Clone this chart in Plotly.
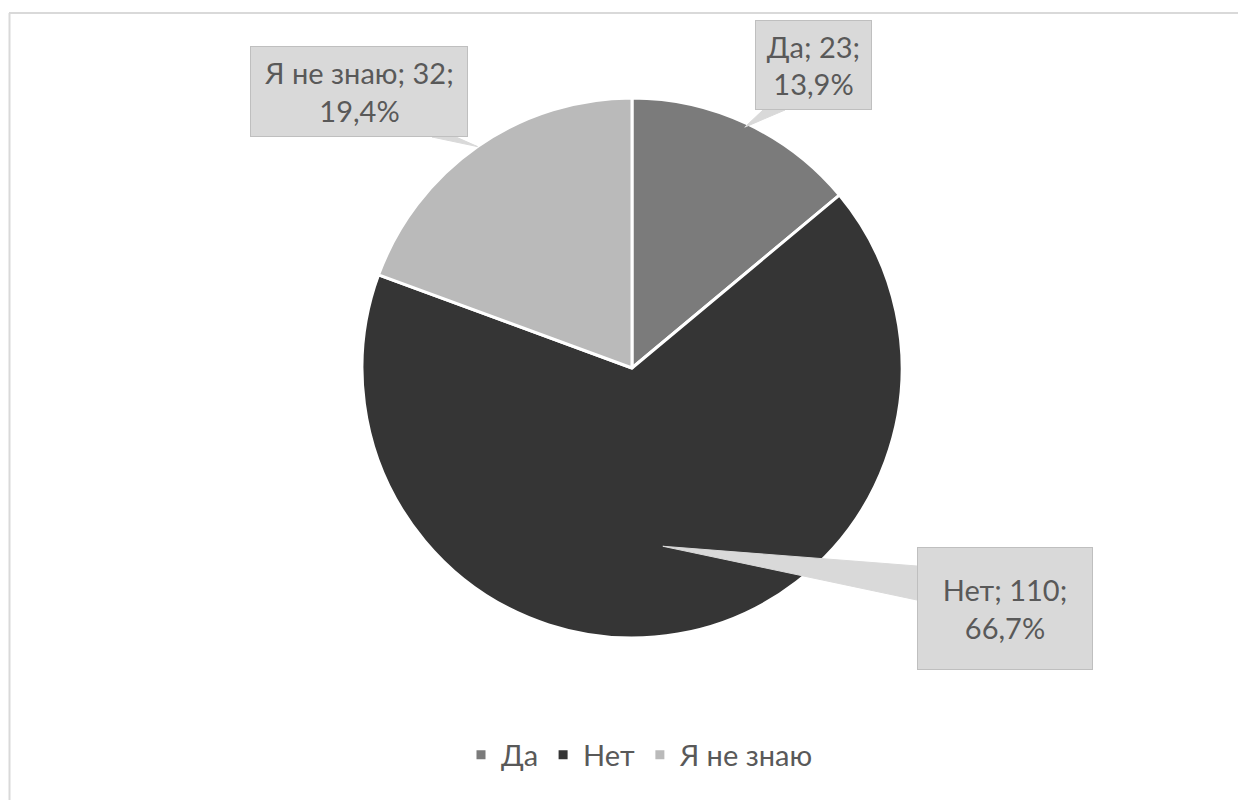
import numpy as np
import plotly.graph_objects as go

# data
labels = ["Да", "Нет", "Я не знаю"]
values = [23, 110, 32]
colors = ["#7b7b7b", "#353535", "#bababa"]

W, H = 1246, 800
OFF = 8                     # page body margin in the screenshot
cx, cy, R = 632, 368, 270   # pie centre / radius in px

# callout boxes (px): x0, y0, x1, y1
boxes = [(755, 20, 872, 110), (917, 547, 1093, 670), (250, 46, 468, 137)]
# pointer bases on the box edge (px) and how far in the tip sits (fraction of R)
bases = [((763, 110), (785, 110)), ((917, 566), (917, 600)), ((432, 137), (456, 137))]
tip_frac = [0.985, 0.67, 1.0]

total = sum(values)
pcts = [v / total * 100 for v in values]

FONT = "Lato, Open Sans, sans-serif"


def px(x):
    return (x - OFF) / W


def py(y):
    return 1 - (y - OFF) / H


fig = go.Figure()
fig.add_trace(go.Pie(
    labels=labels,
    values=values,
    sort=False,
    direction="clockwise",
    rotation=0,
    marker=dict(colors=colors, line=dict(color="white", width=3)),
    textinfo="none",
    hoverinfo="label+value+percent",
    domain=dict(x=[px(cx - R), px(cx + R)], y=[py(cy + R), py(cy - R)]),
))

shapes = []
annotations = []
cum = np.cumsum([0] + values)
for i, lab in enumerate(labels):
    mid = (cum[i] + cum[i + 1]) / 2 / total * 2 * np.pi
    tx = cx + tip_frac[i] * R * np.sin(mid)
    ty = cy - tip_frac[i] * R * np.cos(mid)
    (bx0, by0), (bx1, by1) = bases[i]
    shapes.append(dict(
        type="path", xref="paper", yref="paper", layer="above",
        path=f"M {px(bx0)},{py(by0)} L {px(tx)},{py(ty)} L {px(bx1)},{py(by1)} Z",
        fillcolor="#d9d9d9", line=dict(color="#d9d9d9", width=1),
    ))
    x0, y0, x1, y1 = boxes[i]
    txt = f"{lab}; {values[i]};<br>{pcts[i]:.1f}%".replace(".", ",")
    annotations.append(dict(
        x=px((x0 + x1) / 2), y=py((y0 + y1) / 2), xref="paper", yref="paper",
        xanchor="center", yanchor="middle", showarrow=False,
        text=txt, width=x1 - x0 - 2, height=y1 - y0 - 2,
        bgcolor="#d9d9d9", bordercolor="#bfbfbf", borderwidth=1, borderpad=0,
        font=dict(family=FONT, size=29, color="#595959"),
    ))

# chart frame (only top/left visible)
shapes.append(dict(type="line", xref="paper", yref="paper", x0=px(9), x1=1.01, y0=py(13), y1=py(13),
                   line=dict(color="#d9d9d9", width=2)))
shapes.append(dict(type="line", xref="paper", yref="paper", x0=px(9.5), x1=px(9.5), y0=py(13), y1=-0.02,
                   line=dict(color="#d9d9d9", width=2)))

fig.update_layout(
    width=W, height=H,
    margin=dict(l=0, r=0, t=0, b=0),
    paper_bgcolor="white",
    showlegend=True,
    legend=dict(orientation="h", x=px(640), xanchor="center", y=py(755), yanchor="middle",
                font=dict(family=FONT, size=29, color="#595959"),
                itemwidth=30),
    shapes=shapes,
    annotations=annotations,
)

fig.write_html("out.html")
